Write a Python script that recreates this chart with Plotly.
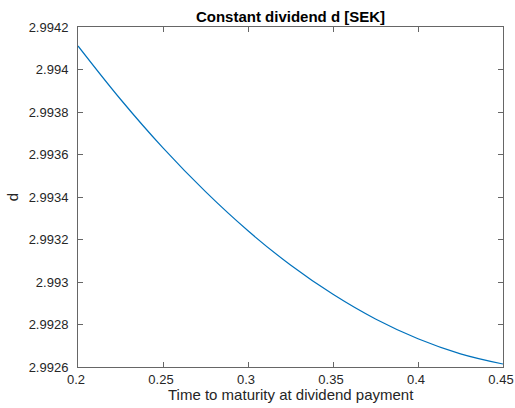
import plotly.graph_objects as go

# Data
time_to_maturity = [0.2, 0.225, 0.25, 0.275, 0.3, 0.325, 0.35, 0.375, 0.4, 0.425, 0.45]
dividend = [2.994111, 2.993860, 2.993631, 2.993425, 2.993241, 2.993080,
            2.992942, 2.992826, 2.992733, 2.992662, 2.992614]

x_ticks = [0.2, 0.25, 0.3, 0.35, 0.4, 0.45]
x_ticktext = ["0.2", "0.25", "0.3", "0.35", "0.4", "0.45"]
y_ticks = [2.9926, 2.9928, 2.993, 2.9932, 2.9934, 2.9936, 2.9938, 2.994, 2.9942]
y_ticktext = ["2.9926", "2.9928", "2.993", "2.9932", "2.9934", "2.9936", "2.9938", "2.994", "2.9942"]

fig = go.Figure()
fig.add_trace(go.Scatter(
    x=time_to_maturity, y=dividend, mode="lines",
    line=dict(color="#0072BD", width=1.2, shape="spline"),
    showlegend=False, hoverinfo="skip",
))

fam = "Liberation Sans, Arial, sans-serif"
font = dict(family=fam, size=13, color="#262626")
label_font = dict(family=fam, size=15, color="#262626")
axis_common = dict(
    showline=True, linecolor="#666666", linewidth=1, mirror="ticks",
    ticks="inside", ticklen=5, tickcolor="#666666", tickwidth=1,
    showgrid=False, zeroline=False, tickfont=font, automargin=False,
    ticklabeloverflow="allow",
)

fig.update_layout(
    width=515, height=408,
    margin=dict(l=78, r=12, t=27, b=41, autoexpand=False),
    paper_bgcolor="white", plot_bgcolor="white",
    font=font,
    title=dict(text="<b>Constant dividend d [SEK]</b>", x=0.5, xref="paper",
               y=1, yref="paper", yanchor="bottom", pad=dict(b=5), automargin=False,
               font=dict(family=fam, size=15, color="black")),
    xaxis=dict(range=[0.2, 0.45], tickvals=x_ticks, ticktext=x_ticktext,
               ticklabelshift=-2, **axis_common),
    yaxis=dict(range=[2.9926, 2.9942], tickvals=y_ticks, ticktext=y_ticktext,
               ticklabelstandoff=6,
               title=dict(text="d", standoff=6, font=label_font),
               **axis_common),
    annotations=[dict(text="Time to maturity at dividend payment", x=0.5, xref="paper",
                      y=0, yref="paper", yanchor="top", xanchor="center", yshift=-17,
                      showarrow=False, font=label_font)],
)

# remove the browser's default 8px page margin so the figure fills the window
fig.write_html("out.html", config={"displayModeBar": False},
               post_script="document.body.style.margin='0';")
